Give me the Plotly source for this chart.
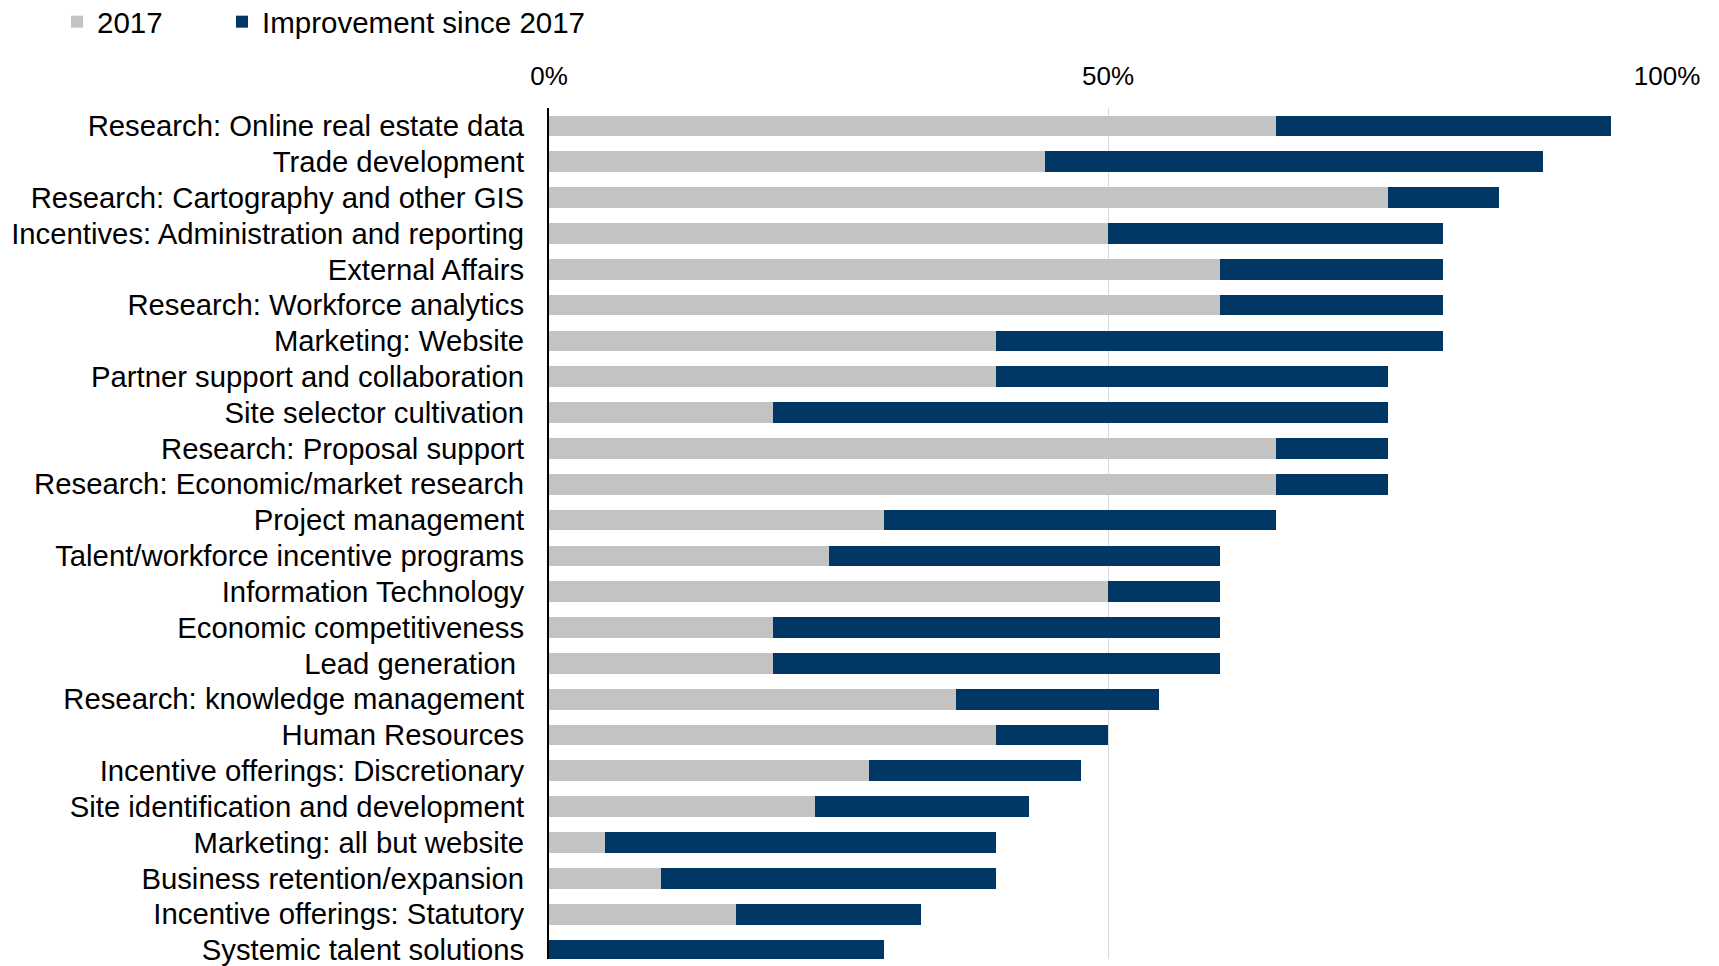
import plotly.graph_objects as go

# Capability areas, top to bottom
categories = [
    "Research: Online real estate data",
    "Trade development",
    "Research: Cartography and other GIS",
    "Incentives: Administration and reporting",
    "External Affairs",
    "Research: Workforce analytics",
    "Marketing: Website",
    "Partner support and collaboration",
    "Site selector cultivation",
    "Research: Proposal support",
    "Research: Economic/market research",
    "Project management",
    "Talent/workforce incentive programs",
    "Information Technology",
    "Economic competitiveness",
    "Lead generation ",
    "Research: knowledge management",
    "Human Resources",
    "Incentive offerings: Discretionary",
    "Site identification and development",
    "Marketing: all but website",
    "Business retention/expansion",
    "Incentive offerings: Statutory",
    "Systemic talent solutions",
]

# Share (%) in 2017
share_2017 = [65, 44.4, 75, 50, 60, 60, 40, 40, 20, 65, 65, 30,
              25, 50, 20, 20, 36.4, 40, 28.6, 23.8, 5, 10, 16.7, 0]

# Additional share (%) gained since 2017
improvement = [30, 44.5, 10, 30, 20, 20, 40, 35, 55, 10, 10, 35,
               35, 10, 40, 40, 18.2, 10, 19.0, 19.1, 35, 30, 16.6, 30]

x_ticks = [0, 0.5, 1.0]
x_tick_labels = ["0%", "50%", "100%"]

GRAY = "#C3C3C3"
NAVY = "#003764"
FONT = "Liberation Sans, Arial, sans-serif"

fig = go.Figure()
fig.add_trace(go.Bar(
    name="2017", y=categories, x=[v / 100 for v in share_2017],
    orientation="h", marker=dict(color=GRAY, line=dict(width=0)),
    legend="legend",
))
fig.add_trace(go.Bar(
    name="Improvement since 2017", y=categories, x=[v / 100 for v in improvement],
    orientation="h", marker=dict(color=NAVY, line=dict(width=0)),
    legend="legend2",
))

W, H = 1719, 966

legend_style = dict(
    orientation="h", xref="container", yref="container",
    xanchor="left", yanchor="middle",
    font=dict(size=29.5, color="black"), itemclick=False,
    bgcolor="rgba(0,0,0,0)",
)

fig.update_layout(
    width=W, height=H,
    barmode="stack", bargap=0.42,
    plot_bgcolor="white", paper_bgcolor="white",
    margin=dict(l=549, r=52, t=108, b=0, pad=0),
    font=dict(family=FONT, size=28, color="black"),
    showlegend=True,
    legend=dict(x=57 / W, y=1 - 22 / H, **legend_style),
    legend2=dict(x=222 / W, y=1 - 22 / H, **legend_style),
    xaxis=dict(
        side="top", range=[0, 1], tickvals=x_ticks, ticktext=x_tick_labels,
        showgrid=True, gridcolor="#D9D9D9", gridwidth=1,
        zeroline=False, showline=False, ticks="",
        tickfont=dict(size=26, color="black"), ticklabelstandoff=17,
    ),
    yaxis=dict(
        type="category", categoryorder="array", categoryarray=categories,
        tickmode="array", tickvals=categories, ticktext=categories,
        range=[23.25, -0.5],
        showline=True, linecolor="black", linewidth=2,
        showgrid=False, zeroline=False, ticks="",
        tickfont=dict(size=29.3, color="black"), ticklabelstandoff=17,
    ),
)

fig.write_html("out.html")
